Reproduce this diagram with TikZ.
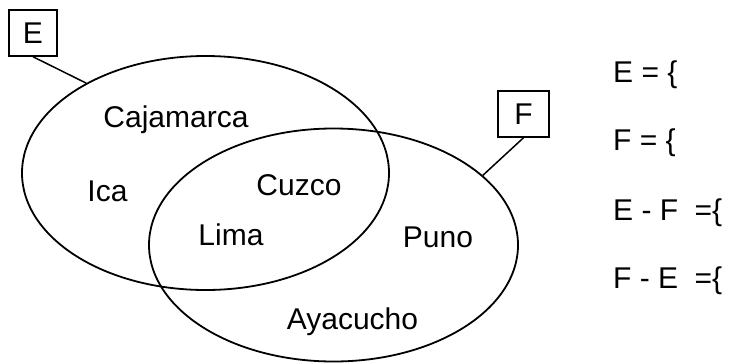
\documentclass[tikz,border=0pt]{standalone}
\usepackage{fontspec}
\setmainfont{Liberation Sans}
\usetikzlibrary{shapes.geometric}
\begin{document}
\begin{tikzpicture}[x=1pt,y=-1pt,
  lbl/.style={inner sep=0pt, font=\fontsize{30}{36}\selectfont, text=black},
  setshape/.style={ellipse, draw=black, line width=1.8pt, inner sep=0pt},
  namebox/.style={draw=black, line width=1.5pt, inner sep=0pt, font=\fontsize{30}{36}\selectfont},
  link/.style={draw=black, line width=1.5pt}]
\useasboundingbox (0,0) rectangle (735,362);
% sets
\node[setshape, minimum width=367pt, minimum height=234pt] (Eset) at (205.5,173) {};
\node[setshape, minimum width=369pt, minimum height=233pt] (Fset) at (333.5,245) {};
% labels boxes
\node[namebox, minimum width=48pt, minimum height=46pt] (Ebox) at (33,33) {E};
\node[namebox, minimum width=51pt, minimum height=46pt] (Fbox) at (523.5,114) {F};
\draw[link] (Ebox.south) -- (Eset.143);
\draw[link] (Fbox.south) -- (Fset.25);
% elements
\node[lbl, anchor=base] (caj) at (176,127) {Cajamarca};
\node[lbl, anchor=base] (ica) at (107.5,201) {Ica};
\node[lbl, anchor=base] (cuz) at (299,195) {Cuzco};
\node[lbl, anchor=base] (lim) at (231,245) {Lima};
\node[lbl, anchor=base] (pun) at (438,247) {Puno};
\node[lbl, anchor=base] (aya) at (352.5,329) {Ayacucho};
% right side
\node[lbl, anchor=base west] (r1) at (613,82) {E = \{};
\node[lbl, anchor=base west] (r2) at (613,150) {F = \{};
\node[lbl, anchor=base west] (r3) at (613,220) {E - F\hspace{16.5pt}=\{};
\node[lbl, anchor=base west] (r4) at (613,288) {F - E\hspace{16.5pt}=\{};
\end{tikzpicture}
\end{document}
